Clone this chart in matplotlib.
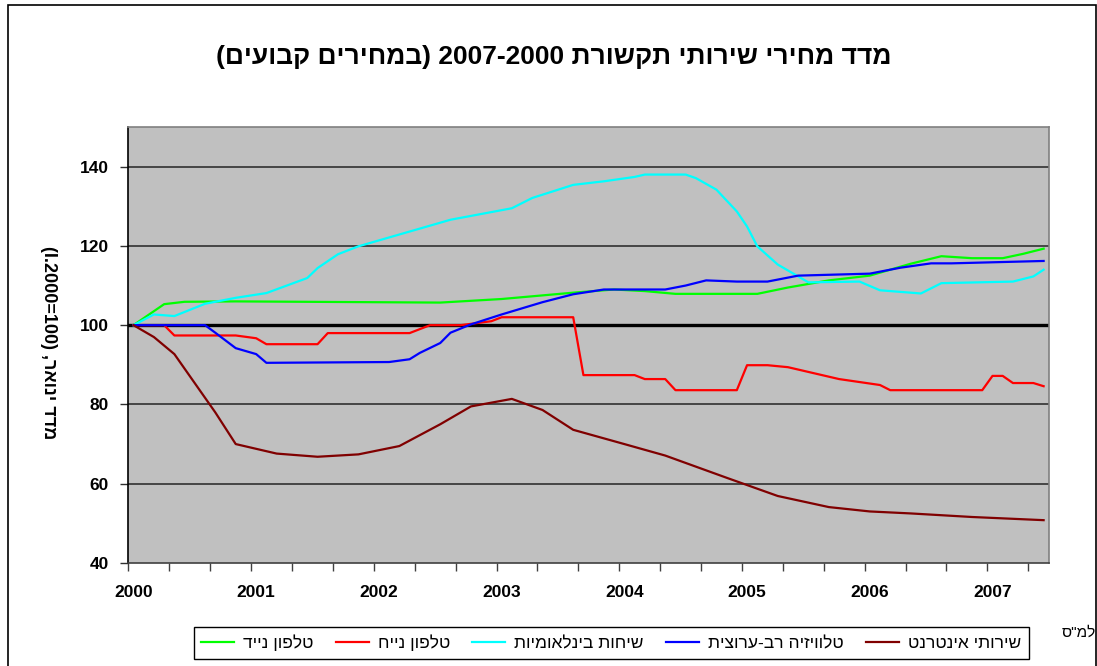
import matplotlib
matplotlib.use("Agg")
import matplotlib.pyplot as plt
from matplotlib.patches import Rectangle

plt.rcParams['font.family'] = ['Liberation Sans', 'DejaVu Sans']

# month index 0 = Jan 2000
years = ["2000", "2001", "2002", "2003", "2004", "2005", "2006", "2007"]
year_pos = [0, 12, 24, 36, 48, 60, 72, 84]

m_green = [0, 3, 5, 10, 30, 36, 43, 47, 50, 53, 61, 64, 68, 72, 76, 79, 82, 85, 87, 89]
green = [100, 105.3, 105.9, 106, 105.7, 106.6, 108.2, 109, 108.6, 107.9, 107.9,
         109.5, 111.3, 112.5, 115.5, 117.4, 116.9, 116.9, 118, 119.3]

m_red = [0, 3, 4, 10, 12, 13, 18, 19, 27, 29, 32, 35, 36, 43, 44, 49, 50, 52, 53,
         59, 60, 62, 64, 69, 73, 74, 83, 84, 85, 86, 88, 89]
red = [100, 100, 97.4, 97.4, 96.7, 95.2, 95.2, 98, 98, 100, 100, 101, 102, 102,
       87.4, 87.4, 86.4, 86.4, 83.6, 83.6, 89.9, 89.9, 89.4, 86.4, 84.9, 83.6,
       83.6, 87.2, 87.2, 85.4, 85.4, 84.6]

m_cyan = [0, 2, 4, 7, 10, 13, 17, 18, 20, 22, 31, 37, 39, 43, 46, 49, 50, 54, 55,
          57, 59, 60, 61, 63, 65, 66, 71, 73, 77, 79, 86, 88, 89]
cyan = [100, 102.7, 102.3, 105.4, 106.9, 108.1, 111.9, 114.4, 117.9, 119.9,
        126.6, 129.5, 132.1, 135.4, 136.3, 137.4, 138, 138, 137.1, 134.2,
        128.7, 124.9, 119.9, 115.3, 112.3, 110.8, 111, 108.8, 108, 110.6,
        111, 112.3, 114]

m_blue = [0, 7, 8, 10, 12, 13, 25, 27, 28, 30, 31, 33, 36, 40, 43, 46, 52, 54, 56,
          59, 62, 65, 72, 75, 78, 80, 89]
blue = [100, 100, 98.1, 94.2, 92.7, 90.5, 90.7, 91.4, 93, 95.5, 98.1, 100.2, 102.7,
        105.8, 107.8, 109, 109, 110, 111.3, 111, 111, 112.5, 113, 114.5, 115.6,
        115.6, 116.2]

m_net = [0, 2, 4, 8, 10, 14, 18, 22, 26, 30, 33, 37, 40, 43, 48, 52, 58, 63, 68,
         72, 76, 82, 89]
net = [100, 97, 92.7, 78, 70, 67.6, 66.8, 67.4, 69.5, 75, 79.5, 81.4, 78.6, 73.6,
       70, 67.1, 61.5, 56.9, 54.1, 53, 52.5, 51.6, 50.8]


def heb(s):
    # matplotlib draws left to right, so flip the hebrew text
    s = s[::-1]
    return s.translate(str.maketrans("()", ")("))


fig = plt.figure(figsize=(10.97, 6.66), dpi=100)
ax = fig.add_axes([0.117, 0.1547, 0.839, 0.6546])
ax.set_facecolor("#C0C0C0")

for v in [60, 80, 120, 140]:
    ax.axhline(v, color="#303030", lw=1.2, zorder=1)
ax.axhline(100, color="black", lw=2.4, zorder=1)

ax.plot(m_green, green, color="#00FF00", lw=1.6, label=heb("טלפון נייד"), zorder=3)
ax.plot(m_red, red, color="#FF0000", lw=1.6, label=heb("טלפון נייח"), zorder=3)
ax.plot(m_cyan, cyan, color="#00FFFF", lw=1.6, label=heb("שיחות בינלאומיות"), zorder=3)
ax.plot(m_blue, blue, color="#0000FF", lw=1.6, label=heb("טלוויזיה רב-ערוצית"), zorder=3)
ax.plot(m_net, net, color="#800000", lw=1.6, label=heb("שירותי אינטרנט"), zorder=3)

ax.set_xlim(-0.5, 89.5)
ax.set_ylim(40, 150)

ax.set_xticks([-0.5 + 4 * k for k in range(23)])
ax.set_xticklabels([])
ax.set_xticks(year_pos, minor=True)
ax.set_xticklabels(years, minor=True, fontsize=12.5, fontweight="bold")
ax.tick_params(axis="x", which="major", length=6, width=1, color="#404040", direction="out")
ax.tick_params(axis="x", which="minor", length=0, pad=16)

ax.set_yticks([40, 60, 80, 100, 120, 140])
ax.set_yticklabels(["40", "60", "80", "100", "120", "140"], fontsize=12.5, fontweight="bold")
ax.tick_params(axis="y", length=6, width=1, color="#303030", pad=8)

ax.spines["left"].set_color("black")
ax.spines["bottom"].set_color("#404040")
ax.spines["top"].set_color("#808080")
ax.spines["right"].set_color("#808080")
for sp in ax.spines.values():
    sp.set_linewidth(1.2)

fig.text(0.505, 0.914, "(" + heb("במחירים קבועים") + ") 2007-2000 " + heb("מדד מחירי שירותי תקשורת"),
         ha="center", va="center", fontsize=19, fontweight="bold")

fig.text(0.044, 0.486, "(I.2000=100) ," + heb("מדד ינואר"), rotation=270,
         ha="center", va="center", fontsize=13, fontweight="bold")

fig.text(0.968, 0.05, heb('למ"ס'), ha="left", va="center", fontsize=11)

fig.legend(loc="center", bbox_to_anchor=(0.557, 0.035), ncol=5, fontsize=12.5,
           frameon=True, fancybox=False, edgecolor="black", framealpha=1,
           handlelength=1.9, columnspacing=1.3, handletextpad=0.5,
           borderpad=0.45)

fig.patches.append(Rectangle((8 / 1097, -0.1), 1088 / 1097, 1.1 - 5 / 666,
                             transform=fig.transFigure, fill=False,
                             edgecolor="black", lw=1.2))

fig.savefig("out.png", dpi=100)
